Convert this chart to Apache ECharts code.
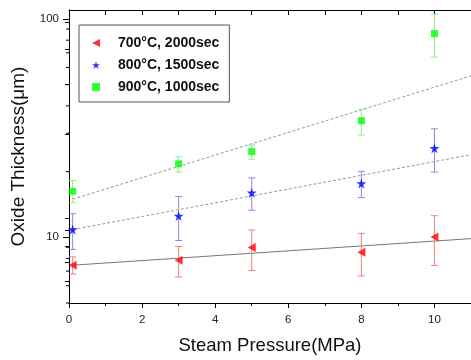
<!DOCTYPE html>
<html>
<head>
<meta charset="utf-8">
<script src="https://cdn.jsdelivr.net/npm/echarts@6/dist/echarts.min.js"></script>
<style>html,body{margin:0;padding:0;background:#fff}#c{width:471px;height:360px}</style>
</head>
<body>
<div id="c"></div>
<script>
// ---- data ----
const pressure = [0.1, 3, 5, 8, 10];
const t700 = [7.45, 7.85, 8.99, 8.53, 10.04];
const t700Low = [6.79, 6.58, 7.05, 6.65, 7.43];
const t700High = [8.13, 9.08, 10.8, 10.42, 12.56];
const t800 = [10.86, 12.53, 16.0, 17.65, 25.6];
const t800Low = [8.8, 9.66, 13.3, 15.2, 19.9];
const t800High = [12.83, 15.37, 18.7, 20.05, 31.4];
const t900 = [16.25, 21.7, 24.7, 34.2, 85.8];
const t900Low = [14.4, 19.9, 22.8, 29.4, 66.9];
const t900High = [18.2, 23.4, 26.5, 38.6, 105.3];
const fitX = [0.1, 11];
const fit700 = [7.45, 9.86];
const fit800 = [10.85, 23.9];
const fit900 = [14.95, 54.9];
const seriesNames = ['700°C, 2000sec', '800°C, 1500sec', '900°C, 1000sec'];
const yMajorTicks = [10, 100];
const yMinorTicks = [5, 6, 7, 8, 9, 20, 30, 40, 50, 60, 70, 80, 90];
const yRightTicks = [97, 72.7, 50, 29.6, 12.2, 10.8, 9.14, 7.69, 6.3];

const FONT = 'Liberation Sans, Arial, sans-serif';
const triPath = 'path://M0,5L10,0L10,10Z';
const starPath = 'path://M50,0L61,35L98,35L68,57L79,91L50,70L21,91L32,57L2,35L39,35Z';

function pts(xs, ys) { return xs.map((x, i) => [x, ys[i]]); }
function errData(xs, lo, hi) { return xs.map((x, i) => [x, lo[i], hi[i]]); }

function errSeries(data, color) {
  return {
    type: 'custom', silent: true, z: 2,
    data: data,
    encode: { x: 0, y: [1, 2] },
    renderItem: function (params, api) {
      const x = api.value(0);
      const a = api.coord([x, api.value(1)]);
      const b = api.coord([x, api.value(2)]);
      const w = 3.5;
      const st = { stroke: color, lineWidth: 1 };
      return { type: 'group', children: [
        { type: 'line', shape: { x1: a[0], y1: a[1], x2: b[0], y2: b[1] }, style: st },
        { type: 'line', shape: { x1: a[0] - w, y1: a[1], x2: a[0] + w, y2: a[1] }, style: st },
        { type: 'line', shape: { x1: b[0] - w, y1: b[1], x2: b[0] + w, y2: b[1] }, style: st }
      ]};
    }
  };
}

function fitSeries(ys, dashed, color) {
  return {
    type: 'line', silent: true, z: 1, symbol: 'none',
    data: pts(fitX, ys),
    lineStyle: { color: color, width: 1, type: dashed ? [3, 2] : 'solid' }
  };
}

const minorTickSeries = {
  type: 'custom', silent: true, z: 5, clip: false,
  data: yMinorTicks.map(v => [0, v]),
  encode: { x: 0, y: 1 },
  renderItem: function (params, api) {
    const p = api.coord([0, api.value(1)]);
    return { type: 'line', shape: { x1: p[0] - 3, y1: p[1], x2: p[0], y2: p[1] },
             style: { stroke: '#000', lineWidth: 1 } };
  }
};

const chart = echarts.init(document.getElementById('c'), null, { renderer: 'canvas' });
chart.setOption({
  animation: false,
  backgroundColor: '#fff',
  grid: { left: 69, top: 10, width: 403, height: 298, containLabel: false },
  legend: {
    left: 79, top: 25, orient: 'vertical',
    padding: [11, 10, 8, 13],
    borderColor: '#555', borderWidth: 1,
    itemWidth: 8, itemHeight: 8, itemGap: 8,
    textStyle: { fontFamily: FONT, fontSize: 14, fontWeight: 'bold', color: '#111', padding: [0, 0, 0, 13] },
    data: [
      { name: seriesNames[0], icon: triPath },
      { name: seriesNames[1], icon: starPath },
      { name: seriesNames[2], icon: 'rect' }
    ]
  },
  xAxis: [{
    type: 'value', position: 'bottom', min: 0, max: 11, interval: 2,
    name: 'Steam Pressure(MPa)', nameLocation: 'middle', nameGap: 33,
    nameTextStyle: { fontFamily: FONT, fontSize: 18.5, color: '#111' },
    axisLine: { show: true, lineStyle: { color: '#000', width: 1 } },
    axisTick: { show: true, inside: false, length: 5, lineStyle: { color: '#000' } },
    minorTick: { show: true, splitNumber: 2, length: 3, lineStyle: { color: '#000' } },
    splitLine: { show: false },
    axisLabel: { fontFamily: FONT, fontSize: 11.5, color: '#222', margin: 11, showMaxLabel: false,
      formatter: v => (v > 10.5 ? '' : String(v)) }
  }, {
    type: 'value', position: 'top', min: 0, max: 11, interval: 1,
    axisLine: { show: true, lineStyle: { color: '#000', width: 1 } },
    axisTick: { show: true, inside: true, length: 5, lineStyle: { color: '#000' } },
    axisLabel: { show: false }, splitLine: { show: false }
  }],
  yAxis: [{
    type: 'log', logBase: 10, position: 'left', min: 5, max: 110,
    name: 'Oxide Thickness(μm)', nameLocation: 'middle', nameGap: 41,
    nameTextStyle: { fontFamily: FONT, fontSize: 19, color: '#111' },
    axisLine: { show: true, lineStyle: { color: '#000', width: 1 } },
    axisTick: { show: true, inside: false, length: 6, customValues: yMajorTicks, lineStyle: { color: '#000' } },
    axisLabel: { fontFamily: FONT, fontSize: 11.5, color: '#222', margin: 10, customValues: yMajorTicks,
      formatter: v => String(Math.round(v)) },
    splitLine: { show: false }
  }, {
    type: 'log', logBase: 10, position: 'right', min: 5, max: 110,
    axisLine: { show: true, lineStyle: { color: '#000', width: 1 } },
    axisTick: { show: true, inside: true, length: 4, customValues: yRightTicks, lineStyle: { color: '#000' } },
    axisLabel: { show: false }, splitLine: { show: false }
  }],
  series: [
    fitSeries(fit700, false, '#777'),
    fitSeries(fit800, true, '#999'),
    fitSeries(fit900, true, '#999'),
    errSeries(errData(pressure, t700Low, t700High), '#f08080'),
    errSeries(errData(pressure, t800Low, t800High), '#9385e2'),
    errSeries(errData(pressure, t900Low, t900High), '#8ef08e'),
    minorTickSeries,
    { name: seriesNames[0], type: 'scatter', z: 4, symbol: triPath, symbolSize: [8, 9],
      itemStyle: { color: '#ff0000' }, data: pts(pressure, t700) },
    { name: seriesNames[1], type: 'scatter', z: 4, symbol: starPath, symbolSize: 10,
      itemStyle: { color: '#0000ff' }, data: pts(pressure, t800) },
    { name: seriesNames[2], type: 'scatter', z: 4, symbol: 'rect', symbolSize: 7,
      itemStyle: { color: '#00ff00' }, data: pts(pressure, t900) }
  ]
});
</script>
</body>
</html>
